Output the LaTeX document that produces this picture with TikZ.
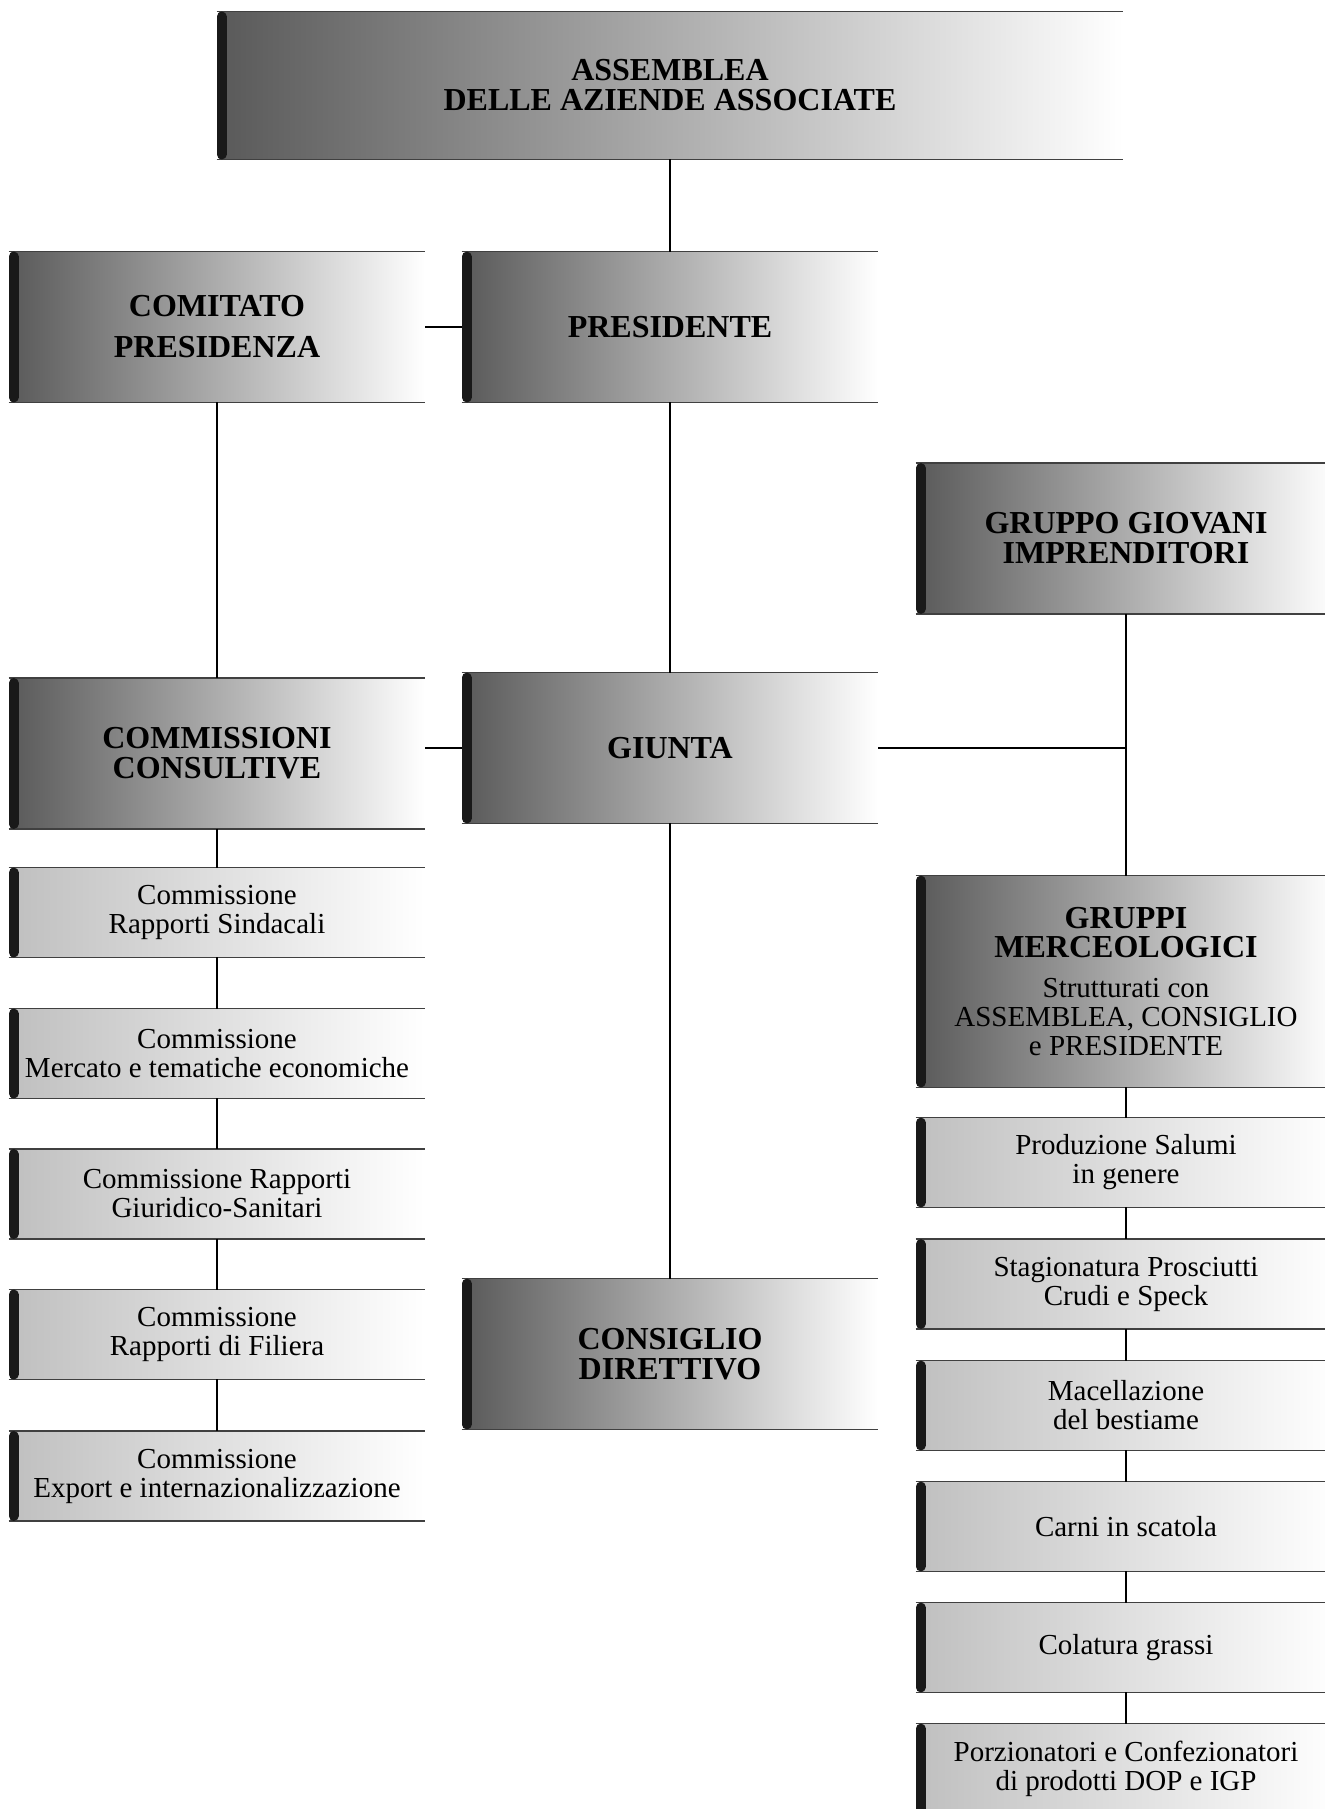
\documentclass[tikz,border=0pt]{standalone}
\usepackage{fontspec}
\setmainfont{Liberation Serif}
\newcommand\boxtitlefont{\bfseries\fontsize{16}{15}\selectfont}
\newcommand\boxtextfont{\fontsize{14.5}{14.5}\selectfont}
\tikzset{
  boxrule/.style={draw=black!75, line width=0.7pt},
  boxbar/.style={draw=black!90, line width=5pt, line cap=round},
  orgbox/.style={rectangle, rounded corners=2.5pt, inner sep=2pt, align=center,
    left color=#1, right color=white, minimum width=208pt,
    append after command={
      \pgfextra{\let\orgnode\tikzlastnode}
      (\orgnode.north west) edge[boxrule] (\orgnode.north east)
      (\orgnode.south west) edge[boxrule] (\orgnode.south east)
      ([shift={(2.5pt,-2.5pt)}]\orgnode.north west) edge[boxbar] ([shift={(2.5pt,2.5pt)}]\orgnode.south west)}},
  bigbox/.style={orgbox=black!65, minimum height=75pt, font=\boxtitlefont},
  smallbox/.style={orgbox=black!25, minimum height=44.5pt, font=\boxtextfont},
  rightcol/.style={minimum width=210pt},
  link/.style={draw=black, line width=1.1pt}
}
\begin{document}
\begin{tikzpicture}[x=0.5pt,y=-0.5pt]
\useasboundingbox (0,0) rectangle (1325,1809);

\node[bigbox, minimum width=453pt, minimum height=73.5pt] (assemblea) at (670,85.5) {ASSEMBLEA\\DELLE AZIENDE ASSOCIATE};
\node[bigbox] (comitato) at (217,327) {COMITATO\\[5.5pt]PRESIDENZA};
\node[bigbox] (presidente) at (670,327) {PRESIDENTE};
\node[bigbox, rightcol] (giovani) at (1126,538.5) {GRUPPO GIOVANI\\IMPRENDITORI};
\node[bigbox] (commissioni) at (217,753.5) {COMMISSIONI\\CONSULTIVE};
\node[bigbox] (giunta) at (670,748) {GIUNTA};
\node[bigbox, rightcol, minimum height=105.5pt, font=\boxtextfont] (merceologici) at (1126,981.5)
  {{\boxtitlefont GRUPPI}\\{\boxtitlefont MERCEOLOGICI}\\[5.5pt]Strutturati con\\ASSEMBLEA, CONSIGLIO\\e PRESIDENTE};
\node[bigbox] (consiglio) at (670,1354) {CONSIGLIO\\DIRETTIVO};

\node[smallbox] (sindacali) at (217,912.5) {Commissione\\Rapporti Sindacali};
\node[smallbox] (mercato) at (217,1053.5) {Commissione\\Mercato e tematiche economiche};
\node[smallbox] (giuridico) at (217,1194) {Commissione Rapporti\\Giuridico-Sanitari};
\node[smallbox] (filiera) at (217,1334.5) {Commissione\\Rapporti di Filiera};
\node[smallbox] (export) at (217,1476) {Commissione\\Export e internazionalizzazione};

\node[smallbox, rightcol] (salumi) at (1126,1162.5) {Produzione Salumi\\in genere};
\node[smallbox, rightcol] (prosciutti) at (1126,1284) {Stagionatura Prosciutti\\Crudi e Speck};
\node[smallbox, rightcol] (macellazione) at (1126,1405.5) {Macellazione\\del bestiame};
\node[smallbox, rightcol] (scatola) at (1126,1526.5) {Carni in scatola};
\node[smallbox, rightcol] (grassi) at (1126,1647.5) {Colatura grassi};
\node[smallbox, rightcol] (dop) at (1126,1768.5) {Porzionatori e Confezionatori\\di prodotti DOP e IGP};

\draw[link] (assemblea) -- (presidente);
\draw[link] (comitato) -- (presidente);
\draw[link] (comitato) -- (commissioni);
\draw[link] (presidente) -- (giunta);
\draw[link] (giunta.west) -- (giunta.west -| commissioni.east);
\draw[link] (giunta.east) -- (giunta.east -| giovani.south);
\draw[link] (giovani) -- (merceologici);
\draw[link] (giunta) -- (consiglio);

\draw[link] (commissioni.south) -- (sindacali.north);
\draw[link] (sindacali.south) -- (mercato.north);
\draw[link] (mercato.south) -- (giuridico.north);
\draw[link] (giuridico.south) -- (filiera.north);
\draw[link] (filiera.south) -- (export.north);

\draw[link] (merceologici.south) -- (salumi.north);
\draw[link] (salumi.south) -- (prosciutti.north);
\draw[link] (prosciutti.south) -- (macellazione.north);
\draw[link] (macellazione.south) -- (scatola.north);
\draw[link] (scatola.south) -- (grassi.north);
\draw[link] (grassi.south) -- (dop.north);
\end{tikzpicture}
\end{document}
